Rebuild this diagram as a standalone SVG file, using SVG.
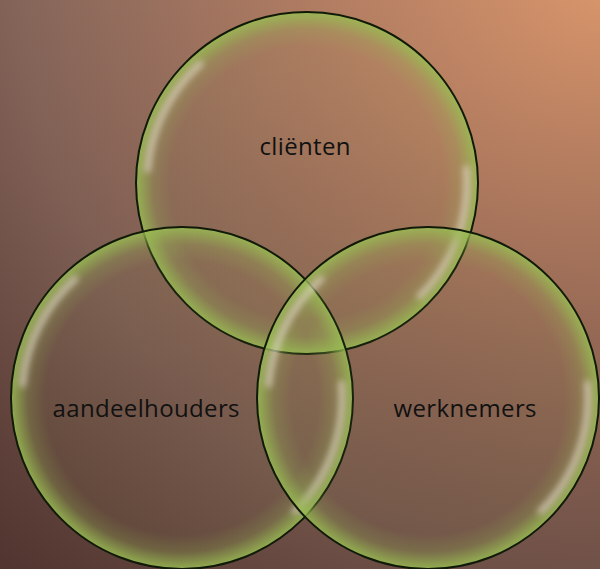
<svg xmlns="http://www.w3.org/2000/svg" xmlns:xlink="http://www.w3.org/1999/xlink" width="600" height="569" viewBox="0 0 600 569">
  <defs>
    <radialGradient id="bg" cx="600" cy="0" r="820" gradientUnits="userSpaceOnUse">
      <stop offset="0" stop-color="#d6946a"/>
      <stop offset="0.35" stop-color="#b07c62"/>
      <stop offset="0.7" stop-color="#86665a"/>
      <stop offset="1" stop-color="#5c3e38"/>
    </radialGradient>
    <linearGradient id="shade" x1="0" y1="0" x2="0" y2="1">
      <stop offset="0" stop-color="#3a2020" stop-opacity="0"/>
      <stop offset="1" stop-color="#3a1f1c" stop-opacity="0.3"/>
    </linearGradient>
    <radialGradient id="rim" cx="0.5" cy="0.5" r="0.5">
      <stop offset="0" stop-color="#96b852" stop-opacity="0.03"/>
      <stop offset="0.8" stop-color="#96b852" stop-opacity="0.06"/>
      <stop offset="0.9" stop-color="#96b852" stop-opacity="0.28"/>
      <stop offset="0.97" stop-color="#98bb52" stop-opacity="0.7"/>
      <stop offset="1" stop-color="#9abd54" stop-opacity="0.85"/>
    </radialGradient>
    <filter id="blur" x="-20%" y="-20%" width="140%" height="140%">
      <feGaussianBlur stdDeviation="3"/>
    </filter>
    <g id="bubble">
      <circle r="171" fill="url(#rim)" stroke="#101a08" stroke-width="2"/>
      <g fill="none" stroke="#f2dde4" stroke-opacity="0.55" stroke-width="7" stroke-linecap="round" filter="url(#blur)">
        <path d="M-107.1,-118.9 A160,160 0 0 0 -159.4,-13.9"/>
        <path d="M159.4,-13.9 A160,160 0 0 1 113.1,113.1"/>
      </g>
    </g>
  </defs>
  <style>
    .lbl { font-family: "Open Sans", "Liberation Sans", sans-serif; font-size: 24px; fill: #111; text-anchor: middle; }
  </style>
  <rect width="600" height="569" fill="url(#bg)"/>
  <rect width="600" height="569" fill="url(#shade)"/>
  <g id="connectors"/>
  <g id="node-clienten">
    <use xlink:href="#bubble" x="307" y="183"/>
    <text class="lbl" x="305" y="155" textLength="91">cliënten</text>
  </g>
  <g id="node-aandeelhouders">
    <use xlink:href="#bubble" x="182" y="398"/>
    <text class="lbl" x="146" y="417" textLength="187">aandeelhouders</text>
  </g>
  <g id="node-werknemers">
    <use xlink:href="#bubble" x="428" y="398"/>
    <text class="lbl" x="465" y="417" textLength="143">werknemers</text>
  </g>
</svg>
